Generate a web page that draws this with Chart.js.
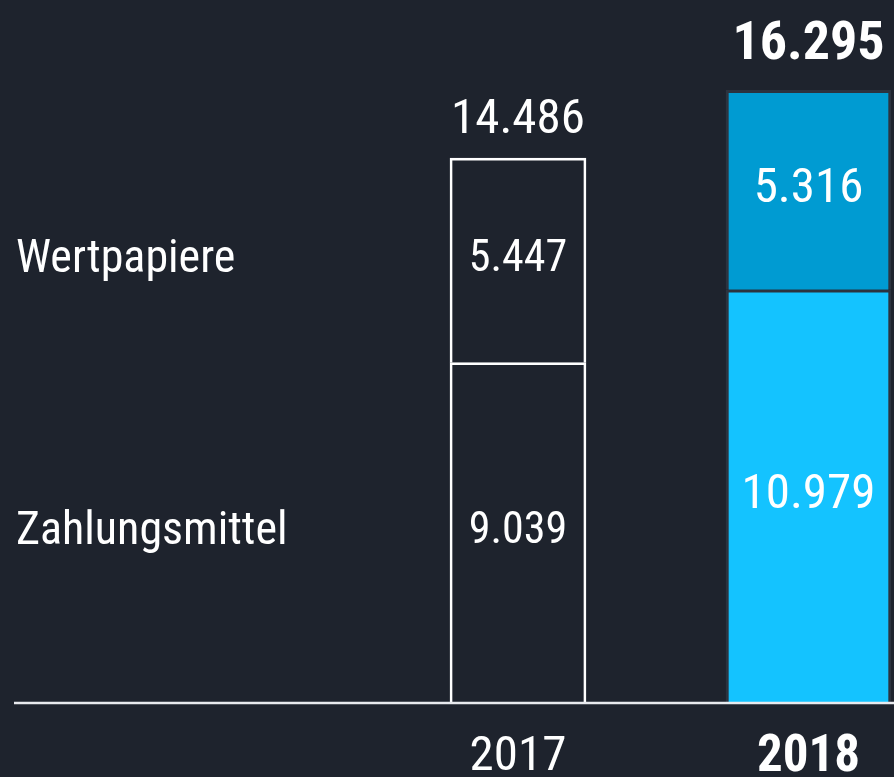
<!DOCTYPE html>
<html lang="de">
<head>
<meta charset="utf-8">
<title>Liquidität 2017 / 2018</title>
<script src="https://cdn.jsdelivr.net/npm/chart.js@4.4.1/dist/chart.umd.min.js"></script>
<style>
  html, body { margin: 0; padding: 0; background: #1e232d; }
  #wrap { width: 894px; height: 777px; }
</style>
</head>
<body>
<div id="wrap"><canvas id="myChart"></canvas></div>
<script>
// Daten
const years = ['2017', '2018'];
const zahlungsmittel = [9039, 10979];
const wertpapiere = [5447, 5316];
const seriesNames = ['Zahlungsmittel', 'Wertpapiere'];

const FONT = "'Liberation Sans Narrow', 'Roboto Condensed', 'DejaVu Sans Condensed', Roboto, sans-serif";

// 14486 -> "14.486"
function fmt(v) {
    return String(v).replace(/\B(?=(\d{3})+(?!\d))/g, '.');
}

// ein Datensatz pro Jahr und Reihe, damit jede Säule ihre eigene Breite/Farbe bekommt
const yearStyle = [
    { thickness: 136, fill: ['rgba(0,0,0,0)', 'rgba(0,0,0,0)'], border: '#ffffff', borderWidth: 2, inner: 44, total: 49, weight: 'normal', gap: 25 },
    { thickness: 165, fill: ['#14c3ff', '#009bd2'], border: '#2c333f', borderWidth: 3, inner: 49, total: 54, weight: 'bold', gap: 31 }
];

const datasets = [];
years.forEach((year, i) => {
    [zahlungsmittel, wertpapiere].forEach((series, s) => {
        datasets.push({
            label: seriesNames[s] + ' ' + year,
            data: years.map((_, j) => (j === i ? series[j] : null)),
            backgroundColor: yearStyle[i].fill[s],
            borderColor: yearStyle[i].border,
            borderWidth: yearStyle[i].borderWidth,
            borderSkipped: 'start',
            barThickness: yearStyle[i].thickness,
            clip: false,
            stack: 'total'
        });
    });
});

function drawText(ctx, text, x, y, size, weight, align, baseline) {
    ctx.save();
    ctx.fillStyle = '#ffffff';
    ctx.font = weight + ' ' + size + 'px ' + FONT;
    ctx.textAlign = align;
    ctx.textBaseline = baseline;
    ctx.fillText(text, x, y);
    ctx.restore();
}

const labelPlugin = {
    id: 'labelPlugin',
    afterDatasetsDraw(chart) {
        const ctx = chart.ctx;
        const yScale = chart.scales.y;
        const y0 = yScale.getPixelForValue(0);

        // Grundlinie
        ctx.save();
        ctx.strokeStyle = '#e8eaee';
        ctx.lineWidth = 2.5;
        ctx.beginPath();
        ctx.moveTo(14, y0 + 1);
        ctx.lineTo(chart.width, y0 + 1);
        ctx.stroke();
        ctx.restore();

        years.forEach((year, i) => {
            const st = yearStyle[i];
            const bottom = chart.getDatasetMeta(i * 2).data[i];
            const top = chart.getDatasetMeta(i * 2 + 1).data[i];

            // Werte in den Segmenten
            drawText(ctx, fmt(zahlungsmittel[i]), bottom.x, (bottom.y + bottom.base) / 2, st.inner, 'normal', 'center', 'middle');
            drawText(ctx, fmt(wertpapiere[i]), top.x, (top.y + top.base) / 2, st.inner, 'normal', 'center', 'middle');

            // Summe über der Säule
            const total = zahlungsmittel[i] + wertpapiere[i];
            drawText(ctx, fmt(total), top.x, top.y - st.gap, st.total, st.weight, 'center', 'alphabetic');

            // Reihennamen links, auf Höhe der 2017-Segmente
            if (i === 0) {
                drawText(ctx, seriesNames[1], 16, (top.y + top.base) / 2, 46, 'normal', 'left', 'middle');
                drawText(ctx, seriesNames[0], 16, (bottom.y + bottom.base) / 2, 46, 'normal', 'left', 'middle');
            }
        });
    }
};

const ctx = document.getElementById('myChart').getContext('2d');
const chart = new Chart(ctx, {
    type: 'bar',
    data: {
        labels: years,
        datasets: datasets
    },
    options: {
        responsive: true,
        maintainAspectRatio: false,
        animation: false,
        layout: {
            padding: { left: 518, right: 85.5, top: 0, bottom: -38 }
        },
        scales: {
            x: {
                stacked: true,
                offset: false,
                grid: { display: false, drawTicks: false },
                border: { display: false },
                ticks: {
                    color: '#ffffff',
                    padding: 31,
                    maxRotation: 0,
                    autoSkip: false,
                    font: (c) => ({
                        family: FONT,
                        size: c.index === 1 ? 51 : 49,
                        lineHeight: 1,
                        weight: c.index === 1 ? 'bold' : 'normal'
                    })
                }
            },
            y: {
                stacked: true,
                display: false,
                min: 0,
                max: 18700
            }
        },
        plugins: {
            legend: { display: false },
            tooltip: { enabled: false }
        }
    },
    plugins: [labelPlugin]
});
</script>
</body>
</html>
